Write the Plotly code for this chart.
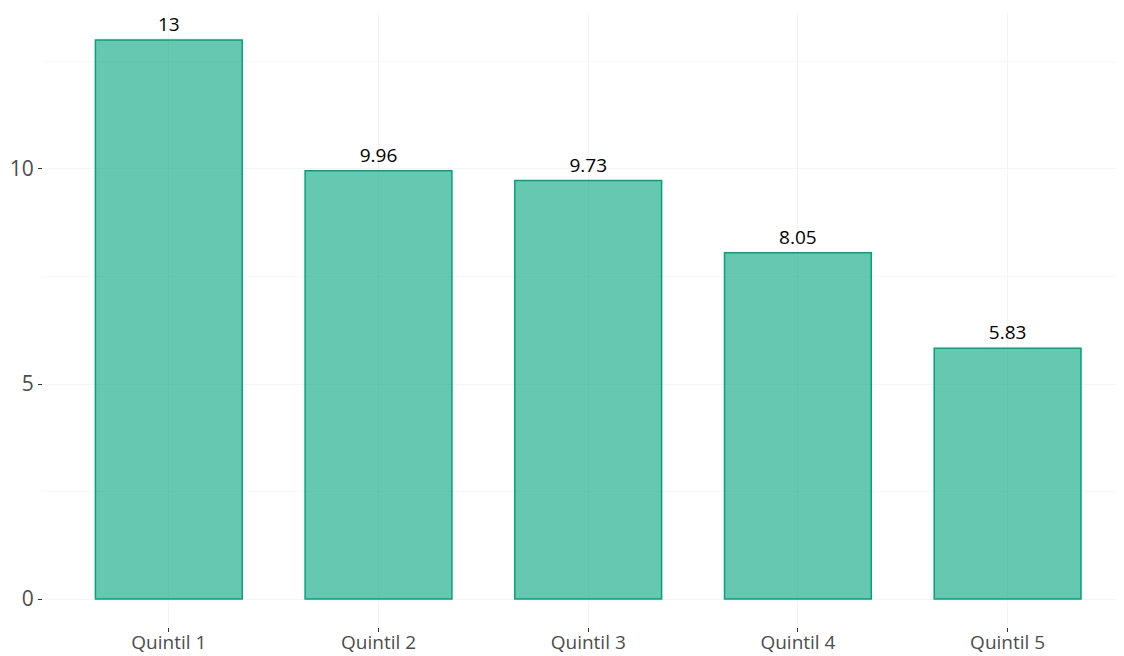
import plotly.graph_objects as go

categories = ["Quintil 1", "Quintil 2", "Quintil 3", "Quintil 4", "Quintil 5"]
values = [13, 9.96, 9.73, 8.05, 5.83]
labels = ["13", "9.96", "9.73", "8.05", "5.83"]

fig = go.Figure()
fig.add_trace(go.Bar(
    x=categories, y=values, width=0.7,
    marker=dict(color="rgba(0,163,123,0.6)", line=dict(color="#00A37B", width=1.5)),
    text=labels, textposition="outside", cliponaxis=False,
    textfont=dict(color="#000000", size=19, family="Open Sans"),
    hoverinfo="x+y",
))
fig.update_layout(
    width=1116, height=648,
    margin=dict(l=35, r=0, t=4, b=29, autoexpand=False),
    paper_bgcolor="white", plot_bgcolor="white",
    showlegend=False,
    font=dict(family="Open Sans", color="#4D4D4D"),
    bargap=0.3,
)
fig.update_xaxes(
    range=[-0.6, 4.555], showgrid=True, gridcolor="#F4F4F4", gridwidth=1,
    ticks="outside", ticklen=4, tickcolor="#333333", tickwidth=1, automargin=False,
    ticklabelstandoff=-6,
    tickfont=dict(size=19, color="#4D4D4D", family="Open Sans"), zeroline=False, showline=False,
)
fig.update_yaxes(
    range=[-0.65, 13.65], tickvals=[0, 5, 10], ticktext=["0", "5", "10"],
    showgrid=True, gridcolor="#F4F4F4", gridwidth=1, automargin=False,
    minor=dict(tickvals=[2.5, 7.5, 12.5], showgrid=True, gridcolor="#F7F7F7", gridwidth=1),
    ticks="outside", ticklen=4, tickcolor="#333333", tickwidth=1,
    tickfont=dict(size=21, color="#4D4D4D", family="Open Sans"), zeroline=False, showline=False,
)
fig.write_html("out.html")
